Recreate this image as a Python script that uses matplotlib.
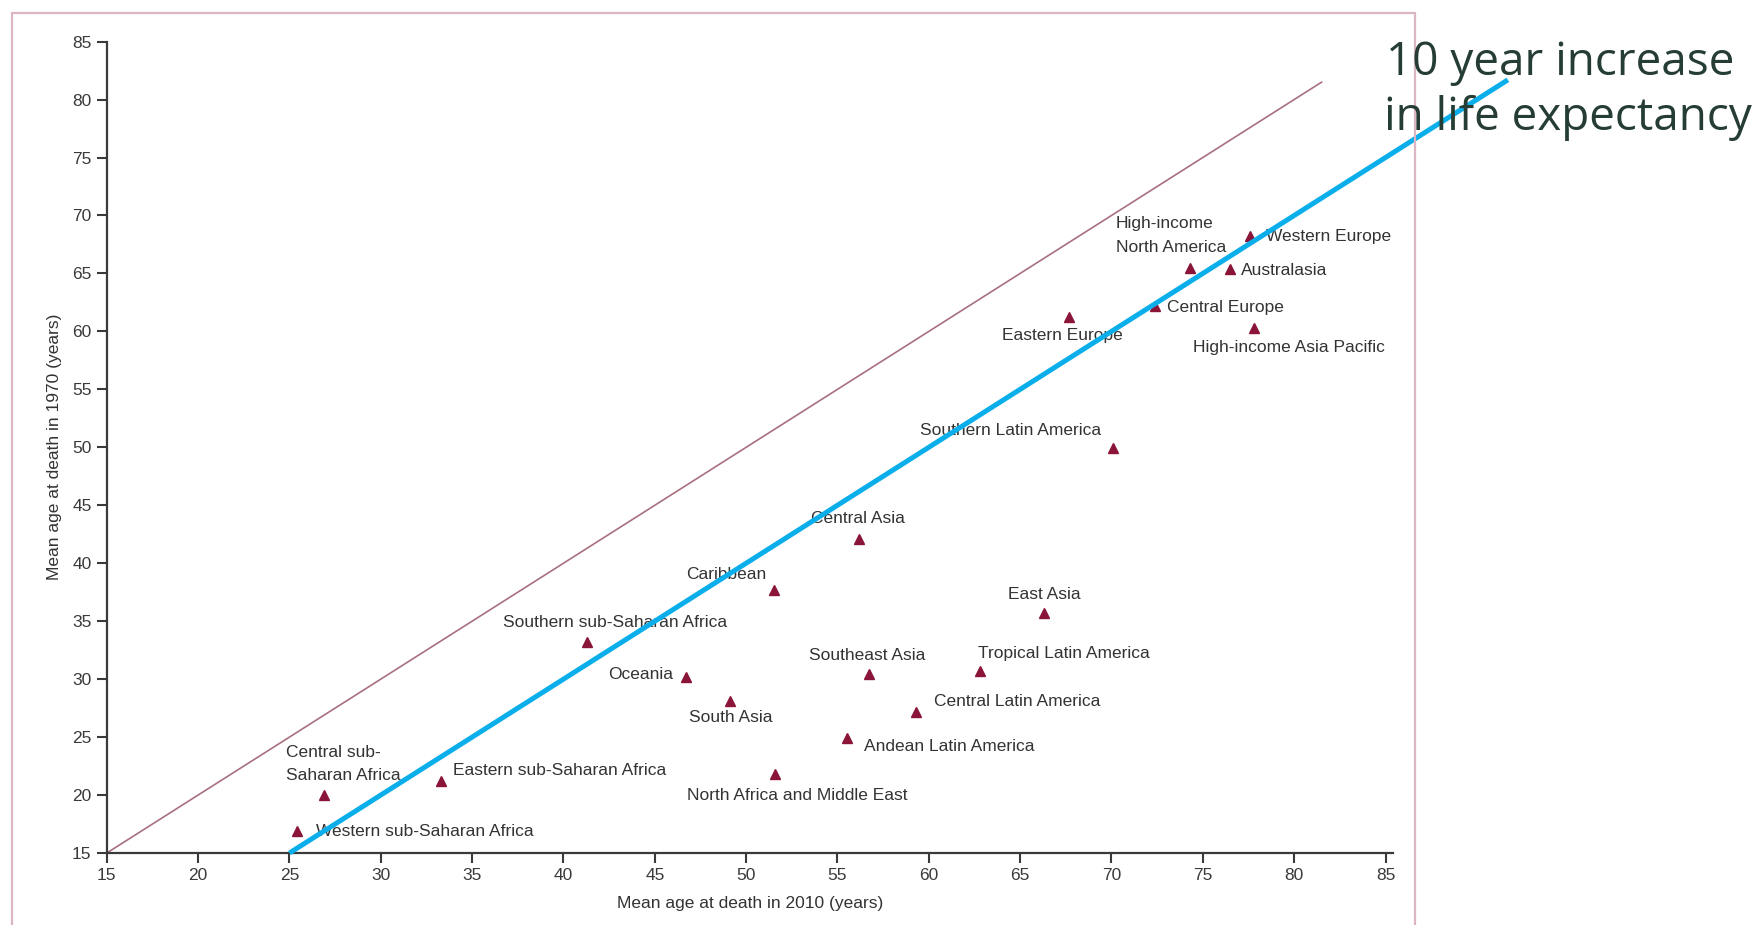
import numpy as np
import matplotlib
matplotlib.use("Agg")
import matplotlib.pyplot as plt
from matplotlib.patches import Rectangle

regions = ["Western sub-Saharan Africa", "Central sub-\nSaharan Africa", "Eastern sub-Saharan Africa",
           "Southern sub-Saharan Africa", "Oceania", "South Asia", "Caribbean",
           "North Africa and Middle East", "Andean Latin America", "Central Asia", "Southeast Asia",
           "Central Latin America", "Tropical Latin America", "East Asia", "Eastern Europe",
           "Southern Latin America", "Central Europe", "High-income\nNorth America", "Australasia",
           "Western Europe", "High-income Asia Pacific"]
age_2010 = np.array([25.4, 26.9, 33.3, 41.3, 46.7, 49.1, 51.5, 51.6, 55.5, 56.2, 56.7,
                     59.3, 62.8, 66.3, 67.7, 70.1, 72.4, 74.3, 76.5, 77.6, 77.8])
age_1970 = np.array([16.9, 20.0, 21.2, 33.2, 30.2, 28.1, 37.7, 21.8, 24.9, 42.1, 30.4,
                     27.2, 30.7, 35.7, 61.2, 49.9, 62.2, 65.5, 65.4, 68.2, 60.3])

ticks = np.arange(15, 90, 5)
equal_x = np.array([15, 81.5])
gain = 10
gain_x = np.array([25, 91.7])

# label offsets in pixels (dx, dy, ha)
offsets = [(19, -1, "left"), (-38, 31, "left"), (12, 11, "left"), (28, 20, "center"),
           (-13, 2, "right"), (1, -16, "center"), (-47, 15, "center"), (22, -21, "center"),
           (17, -8, "left"), (-1, 20, "center"), (-1, 19, "center"), (18, 10, "left"),
           (-2, 18, "left"), (0, 19, "center"), (-7, -18, "center"), (-103, 18, "center"),
           (12, -2, "left"), (-74, 32, "left"), (11, -2, "left"), (16, 0, "left"),
           (35, -20, "center")]

plt.rcParams['font.family'] = ['Liberation Sans', 'DejaVu Sans']
W, H = 1762, 925
fig = plt.figure(figsize=(W/100, H/100), dpi=100)
fig.patches.append(Rectangle((11.5/W, -0.02), (1415-11.5)/W, 1.02 - 13/H, transform=fig.transFigure,
                             fill=False, edgecolor="#dcb5c2", lw=1.6))

x0, x1 = 106.8, 1385.5
xmax = 85.4
ax = fig.add_axes([x0/W, 1-853/H, (x1-x0)*(xmax-15)/70/W, (853-41.6)/H])
ax.set_xlim(15, xmax)
ax.set_ylim(15, 85)
ax.set_xticks(ticks)
ax.set_yticks(ticks)
for s in ["top", "right"]:
    ax.spines[s].set_visible(False)
for s in ["left", "bottom"]:
    ax.spines[s].set_linewidth(1.6)
    ax.spines[s].set_color("#3a3a3a")
ax.tick_params(direction="out", length=7, width=1.5, color="#3a3a3a", labelsize=12.5,
               labelcolor="#3a3a3a", pad=4)
ax.set_xlabel("Mean age at death in 2010 (years)", fontsize=12.5, color="#333333", labelpad=9)
ax.set_ylabel("Mean age at death in 1970 (years)", fontsize=12.5, color="#333333", labelpad=7)

ax.plot(equal_x, equal_x, color="#a8707f", lw=1.2)
ax.plot(age_2010, age_1970, ls="none", marker="^", ms=7, color="#8a1538")
for name, x, y, (dx, dy, ha) in zip(regions, age_2010, age_1970, offsets):
    ax.annotate(name, (x, y), xytext=(dx, dy), textcoords="offset pixels", ha=ha, va="center",
                fontsize=12.5, color="#333333", linespacing=1.7)

ax.plot(gain_x, gain_x - gain, color="#0aaeea", lw=3.6, clip_on=False, zorder=10,
        solid_capstyle="butt")

fig.text(1386/W, 1-75/H, "10 year increase", fontsize=33, color="#253d35",
         family=["Open Sans", "DejaVu Sans"], va="baseline", ha="left", zorder=5)
fig.text(1384/W, 1-130/H, "in life expectancy", fontsize=33, color="#253d35",
         family=["Open Sans", "DejaVu Sans"], va="baseline", ha="left", zorder=5)

fig.savefig("out.png", dpi=100, facecolor="white")
